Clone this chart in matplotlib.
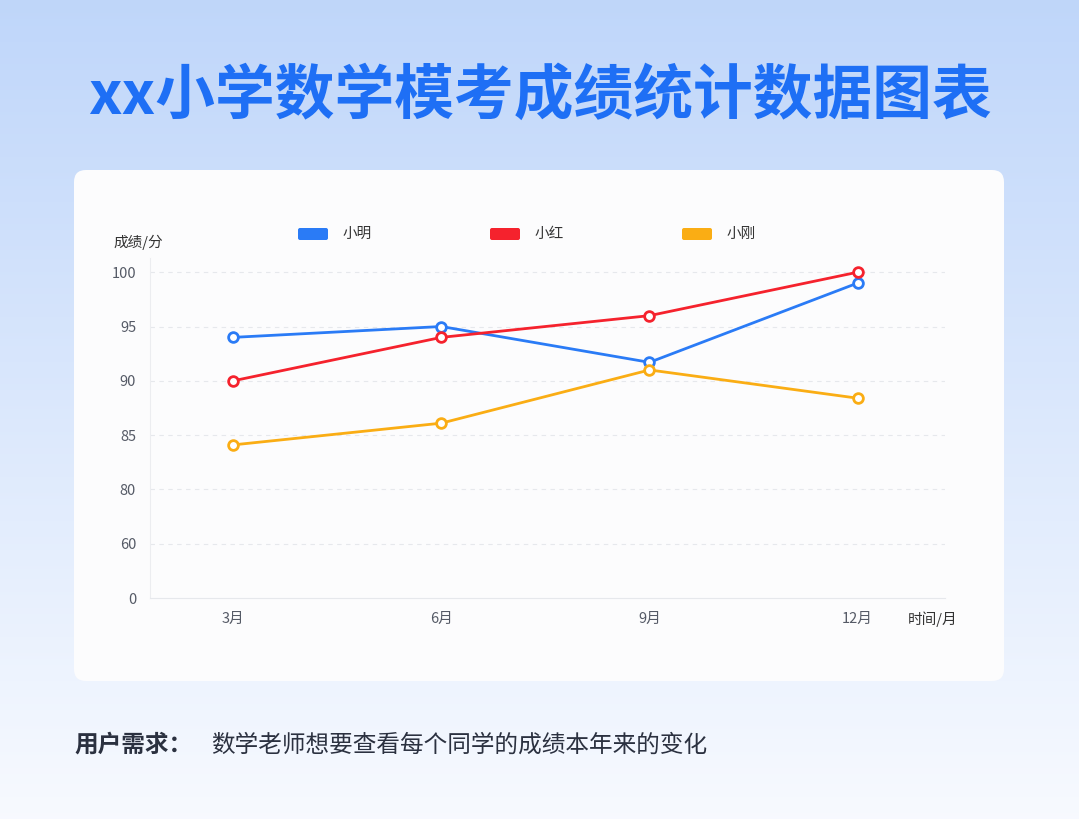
import numpy as np
import matplotlib.pyplot as plt
from matplotlib.patches import FancyBboxPatch

plt.rcParams['font.family'] = ['Noto Sans CJK SC', 'DejaVu Sans']

#-----Data-----#
Months = ["3月", "6月", "9月", "12月"]
YTicks = [0, 60, 80, 85, 90, 95, 100]
XiaoMing = [94, 95, 91.7, 99]
XiaoHong = [90, 94, 96, 100]
XiaoGang = [84.1, 86.1, 91, 88.4]
Names = ["小明", "小红", "小刚"]
Colors = ["#2A7BF6", "#F5222D", "#FAAD14"]

#broken y scale: ticks are evenly spaced
def Scale(v):
    return np.interp(v, YTicks, np.arange(len(YTicks)))

W, H = 1079, 819
fig = plt.figure(figsize=(W/100, H/100), dpi=100)

#background gradient
bg = fig.add_axes([0, 0, 1, 1])
grad = np.linspace(0, 1, 256)[:, None]
top = np.array([0.75, 0.84, 0.98]); bot = np.array([0.97, 0.98, 1.0])
img = top + (bot - top) * grad[:, :, None]
bg.imshow(np.repeat(img, 2, axis=1), aspect='auto', extent=[0, W, H, 0])
bg.set_xlim(0, W); bg.set_ylim(H, 0); bg.axis('off')
bg.add_patch(FancyBboxPatch((74, 170), 930, 511, boxstyle="round,pad=0,rounding_size=12",
                            fc="#FCFCFD", ec="none", zorder=2))
bg.text(540, 97, "xx小学数学模考成绩统计数据图表", ha='center', va='center',
        fontsize=43, fontweight='black', color="#1E6FF5", zorder=3)
bg.text(74, 745, "用户需求：", ha='left', va='center', fontsize=17, fontweight='bold', color="#2B3140", zorder=3)
bg.text(211, 745, "数学老师想要查看每个同学的成绩本年来的变化", ha='left', va='center', fontsize=17, color="#2B3140", zorder=3)

#chart axes
x0, x1, yb, yt = 150, 945, 598, 258
ax = fig.add_axes([x0/W, 1-yb/H, (x1-x0)/W, (yb-yt)/H])
ax.set_facecolor('none')
x = np.arange(len(Months))
for vals, name, c in zip([XiaoMing, XiaoHong, XiaoGang], Names, Colors):
    ax.plot(x, Scale(vals), color=c, lw=2, marker='o', ms=7, mfc='white', mew=2, label=name, zorder=3)

ax.set_xlim(-0.4, 3.42)
ax.set_ylim(0, 6 + 14/53.5)
ax.set_xticks(x, Months)
ax.set_yticks(np.arange(len(YTicks)), [str(t) for t in YTicks])
ax.tick_params(length=0, labelsize=10.5, colors="#555A66", pad=10)
for t in range(1, len(YTicks)):
    ax.axhline(t, color="#E6E8EC", lw=0.8, ls=(0, (4, 4)), zorder=1)
for s in ['top', 'right']:
    ax.spines[s].set_visible(False)
ax.spines['left'].set_color("#ECEDF0")
ax.spines['bottom'].set_color("#E6E8EC")

bg.text(113, 242, "成绩/分", ha='left', va='center', fontsize=10.5, color="#333333", zorder=3)
bg.text(908, 619, "时间/月", ha='left', va='center', fontsize=10.5, color="#333333", zorder=3)

#legend
for i, (name, c) in enumerate(zip(Names, Colors)):
    lx = 298 + i * 192
    bg.add_patch(FancyBboxPatch((lx, 228), 30, 12, boxstyle="round,pad=0,rounding_size=2",
                                fc=c, ec='none', zorder=3))
    bg.text(lx + 45, 234, name, ha='left', va='center', fontsize=10.5, color="#333333", zorder=3)

fig.savefig("out.png", dpi=100)
